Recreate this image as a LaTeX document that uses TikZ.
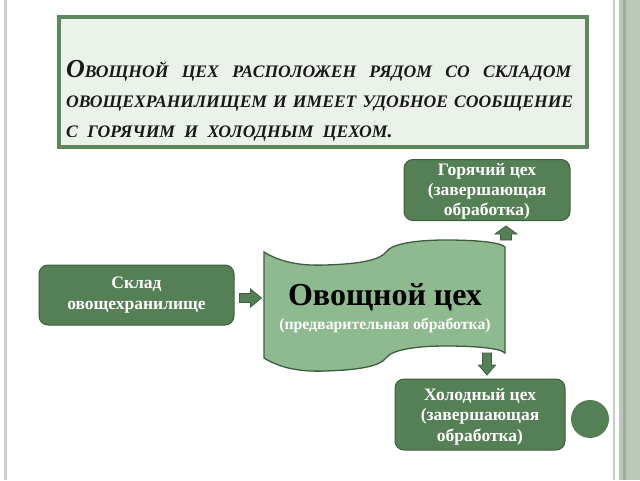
\documentclass[tikz,border=0pt]{standalone}
\usepackage{fontspec}
\setmainfont{Liberation Serif}
\usetikzlibrary{calc}
\definecolor{boxgreen}{HTML}{557F55}
\definecolor{boxedge}{HTML}{3D5E3D}
\definecolor{wavegreen}{HTML}{8FB98F}
\definecolor{titlefill}{HTML}{EAF2EA}
\definecolor{titleedge}{HTML}{5E875E}
\definecolor{sideline}{HTML}{C8CEC8}
\definecolor{sideband}{HTML}{B9C8B9}
\definecolor{sidestripe}{HTML}{9AB29A}
\newcommand{\myBigCap}[1]{{\fontsize{26}{29}\selectfont #1}}
\newcommand{\mySmCap}[1]{{\fontsize{17.6}{29}\selectfont #1}}
\tikzset{
  gbox/.style={draw=boxedge, line width=1pt, fill=boxgreen, rounded corners=9pt, inner sep=0pt},
  btext/.style={text=white, font=\bfseries\fontsize{17.5}{20}\selectfont, align=center, inner sep=0pt},
  barrow/.style={draw=boxedge, fill=boxgreen, line width=0.8pt, line join=miter},
  tline/.style={anchor=base west, inner sep=0pt, text=black!90, font=\bfseries\itshape}
}
\begin{document}
\begin{tikzpicture}[x=1pt,y=-1pt]
\useasboundingbox (0,0) rectangle (640,480);
\fill[white] (0,0) rectangle (640,480);
% side decorations
\fill[sideline] (3.5,0) rectangle (6.5,480);
\fill[sideline] (612.5,0) rectangle (614.5,480);
\fill[sideband] (619,0) rectangle (640,480);
\fill[sidestripe] (622.5,0) rectangle (625.5,480);
% title box
\node[draw=titleedge, line width=4pt, fill=titlefill, minimum width=528pt, minimum height=130pt, inner sep=0pt] (title) at (323,82) {};
\node[tline] (t1) at (66,77) {\makebox[505pt][s]{\myBigCap{О}\mySmCap{ВОЩНОЙ} \mySmCap{ЦЕХ} \mySmCap{РАСПОЛОЖЕН} \mySmCap{РЯДОМ} \mySmCap{СО} \mySmCap{СКЛАДОМ}}};
\node[tline] (t2) at (66,107) {\makebox[507pt][s]{\mySmCap{ОВОЩЕХРАНИЛИЩЕМ} \mySmCap{И} \mySmCap{ИМЕЕТ} \mySmCap{УДОБНОЕ} \mySmCap{СООБЩЕНИЕ}}};
\node[tline] (t3) at (66,137) {\mySmCap{С\hspace{5pt} ГОРЯЧИМ\hspace{5pt} И\hspace{5pt} ХОЛОДНЫМ\hspace{5pt} ЦЕХОМ}{\fontsize{20}{29}\selectfont .}};
% boxes
\node[gbox, minimum width=195pt, minimum height=60pt] (sklad) at (136.5,295) {};
\node[btext, font=\bfseries\fontsize{17.5}{21}\selectfont] at ($(sklad)+(0,0.5)$) {Склад\\овощехранилище};
\node[gbox, minimum width=166pt, minimum height=61pt] (hot) at (487,190) {};
\node[btext] at ($(hot)+(0,1)$) {Горячий цех\\(завершающая\\обработка)};
\node[gbox, minimum width=170pt, minimum height=71pt] (cold) at (480,414.5) {};
\node[btext, font=\bfseries\fontsize{17.5}{20.5}\selectfont] at ($(cold)+(0,2)$) {Холодный цех\\(завершающая\\обработка)};
% wave shape
\draw[draw=boxedge, line width=1.3pt, fill=wavegreen]
  (264,252) .. controls (280,262) and (300,266) .. (325,265)
  .. controls (360,264) and (380,260) .. (386,252)
  .. controls (392,243) and (420,240) .. (445,240)
  .. controls (475,240) and (500,242) .. (505,247)
  -- (505,353)
  .. controls (500,348) and (475,346) .. (445,346)
  .. controls (420,346) and (392,349) .. (386,358)
  .. controls (380,366) and (360,370) .. (325,371)
  .. controls (300,372) and (280,368) .. (264,358) -- cycle;
\coordinate (vegwest) at (264,298);
\coordinate (vegtop) at (506,241);
\coordinate (vegbot) at (487,352);
\node[inner sep=0pt, font=\bfseries\fontsize{32}{32}\selectfont, text=black] (vegtitle) at (385,297) {Овощной цех};
\node[inner sep=0pt, font=\bfseries\fontsize{15.8}{17}\selectfont, text=white] (vegsub) at (385,326) {(предварительная обработка)};
% block arrows
\draw[barrow] ($(sklad.east)+(5,-1.5)$) -- ++(11,0) -- ++(0,-4.5) -- ++(11,9) -- ++(-11,9) -- ++(0,-4.5) -- ++(-11,0) -- cycle;
\draw[barrow] ($(vegtop)+(-5.5,-1)$) -- ++(0,-6) -- ++(-5.5,0) -- ++(11,-8) -- ++(11,8) -- ++(-5.5,0) -- ++(0,6) -- cycle;
\draw[barrow] ($(vegbot)+(-4.5,1)$) -- ++(0,12) -- ++(-4,0) -- ++(8.5,10) -- ++(8.5,-10) -- ++(-4,0) -- ++(0,-12) -- cycle;
% circle
\node[circle, fill=boxgreen, minimum size=38pt, inner sep=0pt] (dot) at (590,419) {};
\end{tikzpicture}
\end{document}
